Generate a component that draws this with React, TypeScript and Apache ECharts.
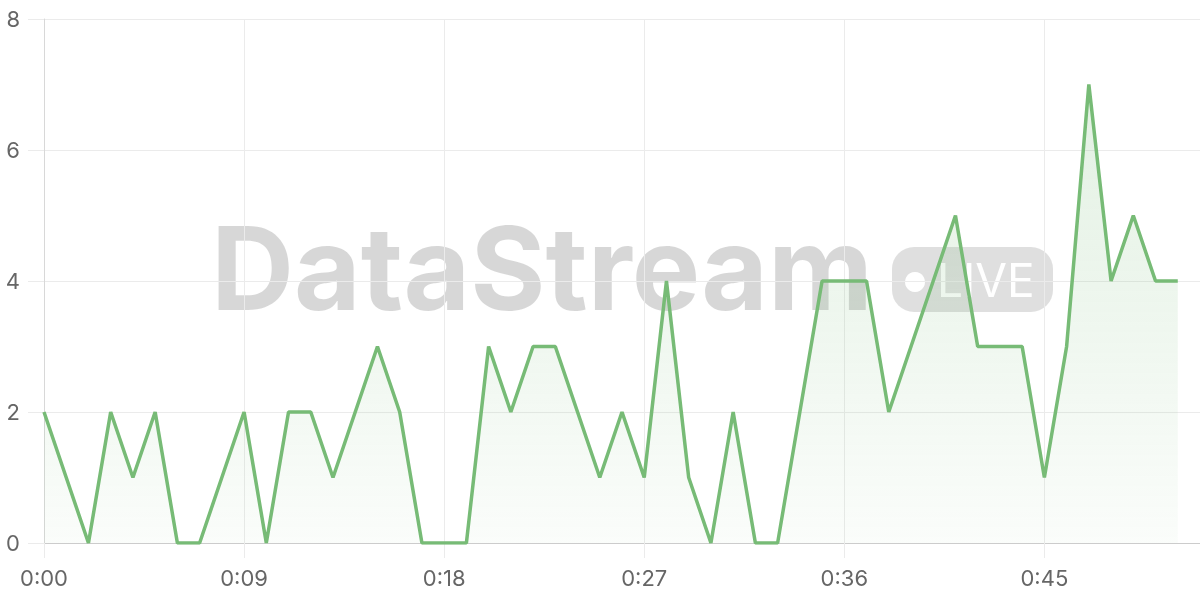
import React, { useEffect, useRef } from "react";
import * as echarts from "echarts";

// events per second, read from 0:00 to 0:51
const eventCounts = [
	2, 1, 0, 2, 1, 2, 0, 0, 1, 2,
	0, 2, 2, 1, 2, 3, 2, 0, 0, 0,
	3, 2, 3, 3, 2, 1, 2, 1, 4, 1,
	0, 2, 0, 0, 2, 4, 4, 4, 2, 3,
	4, 5, 3, 3, 3, 1, 3, 7, 4, 5,
	4, 4,
];
const xTickLabels = ["0:00", "0:09", "0:18", "0:27", "0:36", "0:45"];
const yTicks = [0, 2, 4, 6, 8];

const LINE = "#77bb76";
const GRID = "#ebebeb";
const LABEL = "#666";
const FONT = "Inter, 'Noto Sans', sans-serif";

const App: React.FC = () => {
	const chartRef = useRef<HTMLDivElement>(null);

	useEffect(() => {
		if (!chartRef.current) return;
		const chart = echarts.init(chartRef.current, undefined, { renderer: "svg" });

		const option: echarts.EChartsOption = {
			animation: false,
			grid: { left: 44, right: 0, top: 19, bottom: 57 },
			xAxis: {
				type: "value",
				min: 0,
				max: 52,
				interval: 9,
				axisLine: { show: true, lineStyle: { color: "#cccccc", width: 1 } },
				axisTick: { show: true, length: 15, lineStyle: { color: GRID } },
				splitLine: { show: true, lineStyle: { color: GRID } },
				axisLabel: {
					showMaxLabel: false,
					margin: 24,
					fontSize: 22,
					color: LABEL,
					fontFamily: FONT,
					formatter: (v: number) => (v % 9 === 0 ? xTickLabels[v / 9] ?? "" : ""),
				},
			},
			yAxis: {
				type: "value",
				min: yTicks[0],
				max: yTicks[yTicks.length - 1],
				interval: 2,
				axisLine: { show: true, lineStyle: { color: "#d8d8d8" } },
				axisTick: { show: true, length: 16, lineStyle: { color: GRID } },
				splitLine: { show: true, lineStyle: { color: GRID } },
				axisLabel: { margin: 24, fontSize: 22, color: LABEL, fontFamily: FONT },
			},
			graphic: [
				{
					type: "group",
					z: 1,
					silent: true,
					children: [
						{
							type: "text",
							x: 211,
							y: 268,
							style: {
								text: "DataStream",
								font: "bold 115px Inter, sans-serif",
								fill: "rgba(0,0,0,0.155)",
								textVerticalAlign: "middle",
							},
						},
						{
							type: "rect",
							shape: { x: 892, y: 247, width: 161, height: 65, r: 22 },
							style: { fill: "rgba(0,0,0,0.125)" },
						},
						{
							type: "circle",
							shape: { cx: 915, cy: 282, r: 10 },
							style: { fill: "#fff" },
						},
						{
							type: "text",
							x: 937,
							y: 280,
							style: {
								text: "LIVE",
								font: "46px Inter, sans-serif",
								fill: "#fff",
								textVerticalAlign: "middle",
							},
						},
					],
				},
			],
			series: [
				{
					type: "line",
					data: eventCounts.map((v, i) => [i, v]),
					showSymbol: false,
					z: 3,
					lineStyle: { color: LINE, width: 3.5 },
					itemStyle: { color: LINE },
					areaStyle: {
						color: new echarts.graphic.LinearGradient(0, 0, 0, 1, [
							{ offset: 0, color: "rgba(120,187,120,0.3)" },
							{ offset: 1, color: "rgba(120,187,120,0.05)" },
						]),
					},
				},
			],
		};

		chart.setOption(option);
		return () => {
			chart.dispose();
		};
	}, []);

	return (
		<div
			ref={chartRef}
			style={{ position: "fixed", left: 0, top: 0, width: 1200, height: 600 }}
		/>
	);
};

export default App;
